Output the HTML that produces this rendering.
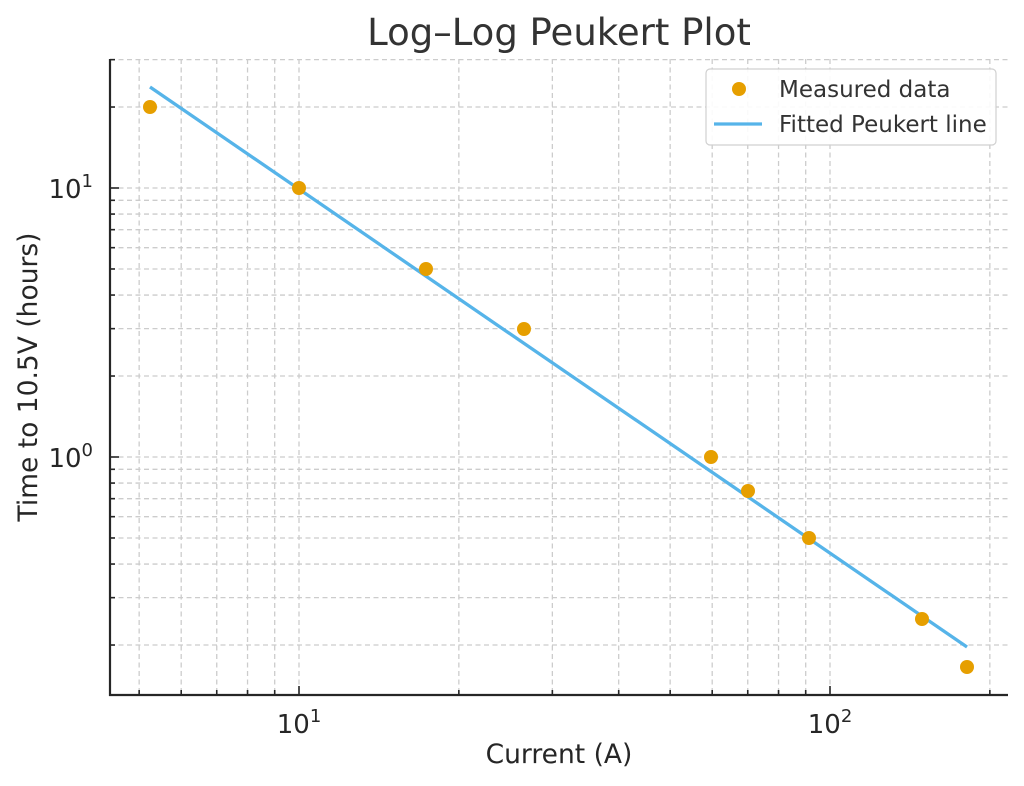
<!DOCTYPE html>
<html><head><meta charset="utf-8"><style>
html,body{margin:0;padding:0;background:#fff;}
svg{display:block;font-family:"DejaVu Sans","Liberation Sans",sans-serif;}
</style></head><body>
<svg id="s" width="1024" height="786" viewBox="0 0 1024 786" xmlns="http://www.w3.org/2000/svg">
<rect width="1024" height="786" fill="#fff"/>
<g id="grid" stroke="#cccccc" stroke-width="1.3" stroke-dasharray="5,3.5" fill="none"></g>
<polyline points="150,87 967,647" stroke="#56b4e9" stroke-width="3.3" fill="none"/>
<g id="pts" fill="#e69f00"></g>
<g id="ticks" stroke="#262626" stroke-width="1.6"></g>
<line x1="110" y1="59" x2="110" y2="696" stroke="#262626" stroke-width="2.2"/>
<line x1="109" y1="695" x2="1008" y2="695" stroke="#262626" stroke-width="2.2"/>
<text x="559" y="45" font-size="37" text-anchor="middle" fill="#333">Log–Log Peukert Plot</text>
<text x="559" y="763" font-size="26.5" text-anchor="middle" fill="#262626">Current (A)</text>
<text transform="translate(37,377) rotate(-90)" font-size="26.5" text-anchor="middle" fill="#262626">Time to 10.5V (hours)</text>
<text x="299" y="733" font-size="26" text-anchor="middle" fill="#262626">10<tspan dy="-11" font-size="18">1</tspan></text>
<text x="830" y="733" font-size="26" text-anchor="middle" fill="#262626">10<tspan dy="-11" font-size="18">2</tspan></text>
<text x="93" y="198" font-size="26" text-anchor="end" fill="#262626">10<tspan dy="-11" font-size="18">1</tspan></text>
<text x="93" y="467" font-size="26" text-anchor="end" fill="#262626">10<tspan dy="-11" font-size="18">0</tspan></text>
<rect x="706" y="69" width="290" height="76" rx="4" fill="#fff" fill-opacity="0.9" stroke="#d0d0d0" stroke-width="1.2"/>
<circle cx="739" cy="89" r="7" fill="#e69f00"/>
<text x="779" y="97" font-size="23" fill="#333">Measured data</text>
<line x1="714" y1="124" x2="762" y2="124" stroke="#56b4e9" stroke-width="3.3"/>
<text x="779" y="132" font-size="23" fill="#333">Fitted Peukert line</text>
</svg>
<script>
var NS="http://www.w3.org/2000/svg";
function el(p,t,a){var e=document.createElementNS(NS,t);for(var k in a)e.setAttribute(k,a[k]);document.getElementById(p).appendChild(e);}
function X(v){return 299+531*Math.log10(v/10);}
function Y(v){return 457-269*Math.log10(v);}
var xs=[5,6,7,8,9,10,20,30,40,50,60,70,80,90,100,200];
xs.forEach(function(v){var x=X(v);el("grid","line",{x1:x,y1:59,x2:x,y2:695});var L=(v==10||v==100)?9:5;el("ticks","line",{x1:x,y1:695,x2:x,y2:695-L});});
var ys=[0.2,0.3,0.4,0.5,0.6,0.7,0.8,0.9,1,2,3,4,5,6,7,8,9,10,20,30];
ys.forEach(function(v){var y=Y(v);el("grid","line",{x1:110,y1:y,x2:1008,y2:y});var L=(v==1||v==10)?9:5;el("ticks","line",{x1:110,y1:y,x2:110+L,y2:y});});
[[150,107],[299,188],[426,269],[524,329],[711,457],[748,491],[809,538],[922,619],[967,667]].forEach(function(p){el("pts","circle",{cx:p[0],cy:p[1],r:7});});
</script>
</body></html>
